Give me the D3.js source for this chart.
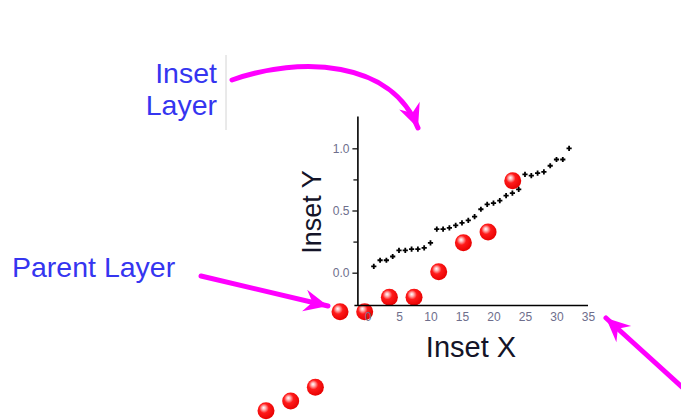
<!DOCTYPE html>
<html>
<head>
<meta charset="utf-8">
<script src="https://cdn.jsdelivr.net/npm/d3@7"></script>
<style>
  html, body { margin: 0; padding: 0; background: #fff; }
  svg { display: block; }
  text { font-family: "Liberation Sans", Arial, sans-serif; }
</style>
</head>
<body>
<svg id="chart" width="681" height="420"></svg>
<script>
// Parent layer: red spheres (index vs. value)
const parentX = [1, 2, 3, 4, 5, 6, 7, 8, 9, 10, 11];
const parentY = [1.17, 1.56, 2.11, 5.13, 5.13, 5.71, 5.71, 6.73, 7.89, 8.32, 10.37];

// Inset layer: black crosses
const insetX = d3.range(1, 33);
const insetY = [0.05, 0.10, 0.10, 0.13, 0.18, 0.18, 0.19, 0.19, 0.20, 0.24,
                0.35, 0.35, 0.36, 0.38, 0.40, 0.42, 0.45, 0.51, 0.55, 0.56,
                0.58, 0.62, 0.64, 0.67, 0.79, 0.78, 0.80, 0.81, 0.86, 0.91,
                0.91, 1.00];

// Inset axis ticks
const insetXTicks = [0, 5, 10, 15, 20, 25, 30, 35];
const insetYTicks = [0.0, 0.5, 1.0];
const insetYMinor = [0.25, 0.75];

const svg = d3.select("#chart");
const defs = svg.append("defs");

// Shaded sphere fill
const grad = defs.append("radialGradient")
  .attr("id", "sphere")
  .attr("cx", 0.42).attr("cy", 0.4).attr("r", 0.62)
  .attr("fx", 0.36).attr("fy", 0.32);
grad.append("stop").attr("offset", "0%").attr("stop-color", "#ffffff");
grad.append("stop").attr("offset", "18%").attr("stop-color", "#ffb4b4");
grad.append("stop").attr("offset", "45%").attr("stop-color", "#ff1a1a");
grad.append("stop").attr("offset", "100%").attr("stop-color", "#e60000");

// Notched arrowhead
defs.append("marker")
  .attr("id", "head")
  .attr("markerUnits", "userSpaceOnUse")
  .attr("viewBox", "-25 -12 26 24")
  .attr("refX", 0).attr("refY", 0)
  .attr("markerWidth", 26).attr("markerHeight", 24)
  .attr("orient", "auto")
  .append("path")
  .attr("d", "M0,0 L-24,-11 L-16,0 L-24,11 Z")
  .attr("fill", "#ff00ff");

// ---- Parent layer ----
const px = d3.scaleLinear().domain([0, 12]).range([241.33, 537.4]);
const py = d3.scaleLinear().domain([0, 12]).range([440, 140]);

svg.append("g")
  .selectAll("circle")
  .data(parentX.map((x, i) => [x, parentY[i]]))
  .join("circle")
  .attr("cx", d => px(d[0]))
  .attr("cy", d => py(d[1]))
  .attr("r", 8.5)
  .attr("fill", "url(#sphere)");

// ---- Inset layer ----
const ix = d3.scaleLinear().domain([-1.6, 35]).range([357.4, 588]);
const iy = d3.scaleLinear().domain([-0.26, 1.26]).range([305, 116]);

const inset = svg.append("g");

const yAxis = inset.append("g")
  .attr("transform", `translate(${ix(-1.6)},0)`)
  .call(d3.axisLeft(iy).tickValues(insetYTicks).tickFormat(d3.format(".1f"))
    .tickSize(5).tickSizeOuter(0).tickPadding(3));
yAxis.append("g")
  .call(d3.axisLeft(iy).tickValues(insetYMinor).tickFormat("").tickSize(4).tickSizeOuter(0))
  .select(".domain").remove();

const xAxis = inset.append("g")
  .attr("transform", `translate(0,${iy(-0.26)})`)
  .call(d3.axisBottom(ix).tickValues(insetXTicks).tickSize(0).tickSizeOuter(0).tickPadding(7));

[yAxis, xAxis].forEach(a => {
  a.selectAll(".domain").attr("stroke", "#000").attr("stroke-width", 1.6);
  a.selectAll("line").attr("stroke", "#000").attr("stroke-width", 1.2);
  a.selectAll("text").attr("fill", "#6e6e8c").style("font-size", "12px")
    .style("font-family", '"Liberation Sans", Arial, sans-serif');
});
xAxis.select(".domain").attr("d", `M${ix(-1.6) - 3},0.5H${ix(35)}`);

// Inset crosses
const crossSize = 2.6;
inset.append("g")
  .selectAll("path")
  .data(insetX.map((x, i) => [x, insetY[i]]))
  .join("path")
  .attr("transform", d => `translate(${ix(d[0])},${iy(d[1])})`)
  .attr("d", `M${-crossSize},0H${crossSize}M0,${-crossSize}V${crossSize}`)
  .attr("stroke", "#000")
  .attr("stroke-width", 1.8);

// Inset axis titles
inset.append("text")
  .attr("x", 471).attr("y", 357)
  .attr("text-anchor", "middle")
  .attr("fill", "#141428")
  .style("font-size", "29px")
  .text("Inset X");

inset.append("text")
  .attr("transform", "translate(321,212) rotate(-90)")
  .attr("text-anchor", "middle")
  .attr("fill", "#141428")
  .style("font-size", "27px")
  .text("Inset Y");

// ---- Annotations ----
const notes = svg.append("g").attr("fill", "#3535f0").style("font-size", "28.5px");
notes.append("text").attr("x", 217).attr("y", 83).attr("text-anchor", "end").text("Inset");
notes.append("text").attr("x", 217).attr("y", 115).attr("text-anchor", "end").text("Layer");
notes.append("text").attr("x", 12).attr("y", 277).text("Parent Layer");

svg.append("line")
  .attr("x1", 226).attr("x2", 226).attr("y1", 55).attr("y2", 130)
  .attr("stroke", "#d4d4d4").attr("stroke-width", 1);

const arrows = [
  "M232,80 C300,56 392,60 418,128",
  "M201,276 L328,306",
  "M692,396 L606,318"
];
svg.append("g")
  .selectAll("path")
  .data(arrows)
  .join("path")
  .attr("d", d => d)
  .attr("fill", "none")
  .attr("stroke", "#ff00ff")
  .attr("stroke-width", 5)
  .attr("stroke-linecap", "round")
  .attr("marker-end", "url(#head)");
</script>
</body>
</html>
